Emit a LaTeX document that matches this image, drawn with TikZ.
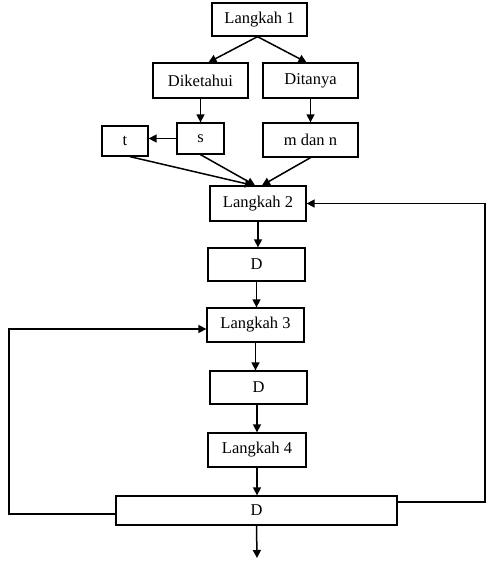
\documentclass[tikz,border=0pt]{standalone}
\usepackage{fontspec}
\setmainfont{Liberation Serif}
\usetikzlibrary{arrows.meta}
\tikzset{
  kotak/.style={draw, line width=1.3pt, inner sep=0pt, font=\fontsize{16.5}{19}\selectfont},
  panah/.style={line width=1.5pt, -{Triangle[length=8pt,width=8pt]}},
}
\begin{document}
\begin{tikzpicture}[x=1pt,y=-1pt]
\useasboundingbox (0,0) rectangle (488,561);
\node[kotak, minimum width=95pt, minimum height=33pt] (lk1) at (259.5,19.5){Langkah 1};
\node[kotak, minimum width=95pt, minimum height=35pt] (dik) at (200.5,80.5){Diketahui};
\node[kotak, minimum width=95pt, minimum height=35pt] (dit) at (310.5,80.5){Ditanya};
\node[kotak, minimum width=46pt, minimum height=30pt] (t) at (125,141){t};
\node[kotak, minimum width=47pt, minimum height=31pt] (s) at (200.5,138.5){s};
\node[kotak, minimum width=95pt, minimum height=34pt] (mn) at (310.5,140){m dan n};
\node[kotak, minimum width=96pt, minimum height=35pt] (lk2) at (258,203.5){Langkah 2};
\node[kotak, minimum width=97pt, minimum height=33pt] (d1) at (256.5,264.5){D};
\node[kotak, minimum width=97pt, minimum height=34pt] (lk3) at (255.5,325){Langkah 3};
\node[kotak, minimum width=97pt, minimum height=33pt] (d2) at (258.5,387.5){D};
\node[kotak, minimum width=98pt, minimum height=34pt] (lk4) at (257,450){Langkah 4};
\node[kotak, minimum width=281pt, minimum height=29pt] (d3) at (256.5,510.5){D};
\coordinate (kiri) at (9,0);
\coordinate (kanan) at (485,0);
\coordinate (akhir) at (257,558);
\draw[panah]([xshift=-2pt]lk1.south) -- ([xshift=8pt]dik.north);
\draw[panah]([xshift=-2pt]lk1.south) -- ([xshift=-4pt]dit.north);
\draw[panah](dik.south) -- (s.north);
\draw[panah](dit.south) -- (mn.north);
\draw[panah](s.west) -- (s.west -| t.east);
\draw[panah]([xshift=5pt]t.south) -- ([xshift=-5pt]lk2.north);
\draw[panah](s.south) -- ([xshift=-3pt]lk2.north);
\draw[panah](mn.south) -- ([xshift=4pt]lk2.north);
\draw[panah](lk2.south) -- (lk2.south |- d1.north);
\draw[panah](d1.south) -- (d1.south |- lk3.north);
\draw[panah](lk3.south) -- (lk3.south |- d2.north);
\draw[panah](lk4.north |- d2.south) -- (lk4.north);
\draw[panah](lk4.south) -- (lk4.south |- d3.north);
\draw[panah](d3.south) -- (akhir);
\draw[panah]([yshift=-3.5pt]d3.west) -- ([yshift=-3.5pt]d3.west -| kiri) |- ([yshift=-4pt]lk3.west);
\draw[panah]([yshift=8.5pt]d3.east) -- ([yshift=8.5pt]d3.east -| kanan) |- (lk2.east);
\end{tikzpicture}
\end{document}
